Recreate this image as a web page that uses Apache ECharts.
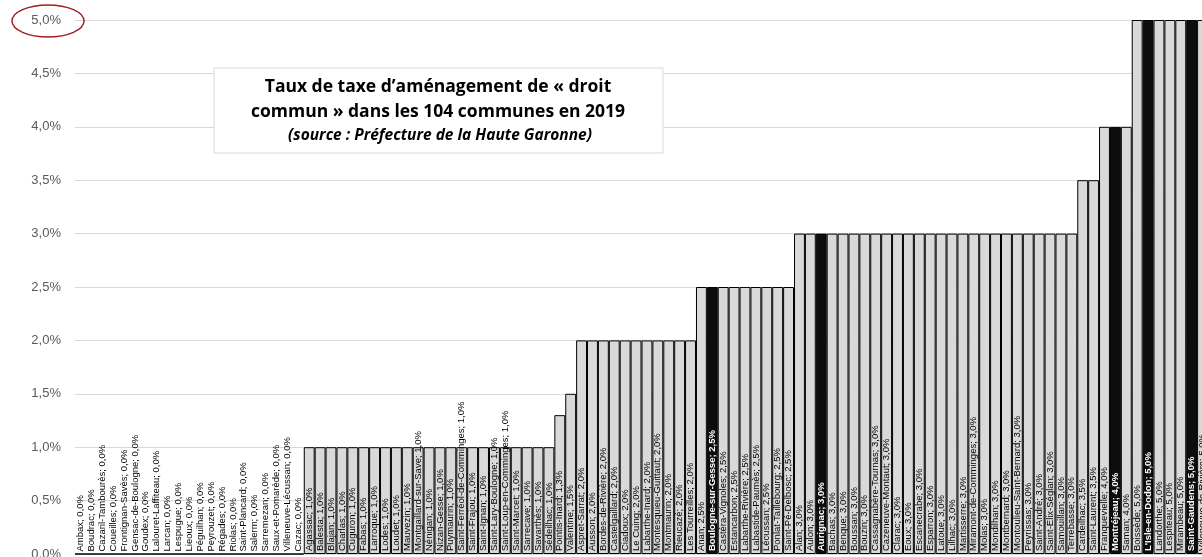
<!DOCTYPE html>
<html>
<head>
<meta charset="utf-8">
<script src="https://cdn.jsdelivr.net/npm/echarts@6/dist/echarts.min.js"></script>
<style>
  html, body { margin: 0; padding: 0; background: #fff; }
  #chart { width: 1202px; height: 557px; }
</style>
</head>
<body>
<div id="chart"></div>
<script>
// communes, dans l'ordre du graphique
const communes = [
  'Ambax', 'Boudrac', 'Cazaril-Tambourès', 'Coueilles', 'Frontignan-Savès', 'Gensac-de-Boulogne',
  'Goudex', 'Lalouret-Laffiteau', 'Larcan', 'Lespugue', 'Lieoux', 'Péguilhan', 'Peyrouzet',
  'Régades', 'Riolas', 'Saint-Plancard', 'Salerm', 'Sarremezan', 'Saux-et-Pomarède',
  'Villeneuve-Lécussan', 'Cazac',
  'Agassac', 'Balesta', 'Blajan', 'Charlas', 'Cuguron', 'Fabas', 'Larroque', 'Lodes', 'Loudet',
  'Mauvezin', 'Montgaillard-sur-Save', 'Nénigan', 'Nizan-Gesse', 'Puymaurin',
  'Saint-Ferréol-de-Comminges', 'Saint-Frajou', 'Saint-Ignan', 'Saint-Lary-Boulogne',
  'Saint-Loup-en-Comminges', 'Saint-Marcet', 'Sarrecave', 'Savarthès', 'Sédeilhac',
  'Pointis-Inard', 'Valentine',
  'Aspret-Sarrat', 'Ausson', 'Bordes-de-Rivière', 'Castelgaillard', 'Ciadoux', 'Le Cuing',
  'Labarthe-Inard', 'Montesquieu-Guittaut', 'Montmaurin', 'Rieucazé', 'Les Tourreilles',
  'Anan', 'Boulogne-sur-Gesse', 'Castéra-Vignoles', 'Estancarbon', 'Labarthe-Rivière',
  'Labastide-Paumès', 'Lécussan', 'Ponlat-Taillebourg', 'Saint-Pé-Delbosc',
  'Alan', 'Aulon', 'Aurignac', 'Bachas', 'Benque', 'Boussan', 'Bouzin', 'Cassagnabère-Tournas',
  'Cazeneuve-Montaut', 'Clarac', 'Eoux', 'Escanecrabe', 'Esparron', 'Latoue', 'Lilhac',
  'Martisserre', 'Miramont-de-Comminges', 'Molas', 'Mondilhan', 'Montbernard',
  'Montoulieu-Saint-Bernard', 'Peyrissas', 'Saint-André', 'Saint-Élix-Séglan', 'Samouillan',
  'Terrebasse',
  'Cardeilhac', 'Saint-Laurent',
  'Franquevielle', 'Montréjeau', 'Saman',
  'Boissède', "L'Isle-en-Dodon", 'Landorthe', 'Lespiteau', 'Mirambeau', 'Saint-Gaudens',
  'Villeneuve-de-Rivière'
]

// taux en %
const taux = [
  0, 0, 0, 0, 0, 0, 0, 0, 0, 0, 0, 0, 0, 0, 0, 0, 0, 0, 0, 0, 0,
  1, 1, 1, 1, 1, 1, 1, 1, 1, 1, 1, 1, 1, 1, 1, 1, 1, 1, 1, 1, 1, 1, 1,
  1.3, 1.5,
  2, 2, 2, 2, 2, 2, 2, 2, 2, 2, 2,
  2.5, 2.5, 2.5, 2.5, 2.5, 2.5, 2.5, 2.5, 2.5,
  3, 3, 3, 3, 3, 3, 3, 3, 3, 3, 3, 3, 3, 3, 3, 3, 3, 3, 3, 3, 3, 3, 3, 3, 3, 3,
  3.5, 3.5,
  4, 4, 4,
  5, 5, 5, 5, 5, 5, 5
]

// communes mises en évidence (barres noires)
const enEvidence = ['Boulogne-sur-Gesse', 'Aurignac', 'Montréjeau', "L'Isle-en-Dodon", 'Saint-Gaudens']

const yTicks = [0, 0.5, 1, 1.5, 2, 2.5, 3, 3.5, 4, 4.5, 5]

const fmt = v => v.toFixed(1).replace('.', ',') + '%'

const chart = echarts.init(document.getElementById('chart'))

chart.setOption({
  animation: false,
  grid: { left: 75, right: -6, top: 20, bottom: 3, outerBoundsMode: 'none' },
  xAxis: {
    type: 'category',
    data: communes,
    axisLabel: { show: false },
    axisTick: { show: false },
    axisLine: { lineStyle: { color: '#d9d9d9' } },
  },
  yAxis: {
    type: 'value',
    min: yTicks[0],
    max: yTicks[yTicks.length - 1],
    interval: 0.5,
    axisLabel: {
      formatter: v => fmt(v),
      color: '#595959',
      fontSize: 13,
      fontFamily: 'Liberation Sans',
      margin: 14,
    },
    splitLine: { lineStyle: { color: '#d9d9d9' } },
  },
  series: [{
    type: 'bar',
    barCategoryGap: '0%',
    data: taux.map((v, i) => {
      const hl = enEvidence.includes(communes[i])
      return {
        value: v,
        itemStyle: { color: hl ? '#0d0d0d' : '#d9d9d9' },
        label: { color: hl ? '#ffffff' : '#000000', fontWeight: hl ? 'bold' : 'normal' },
      }
    }),
    itemStyle: { borderColor: '#000', borderWidth: 1 },
    label: {
      show: true,
      position: 'insideBottom',
      rotate: 90,
      align: 'left',
      verticalAlign: 'middle',
      distance: 3,
      fontSize: 9.5,
      fontFamily: 'Liberation Sans',
      formatter: p => p.name + '; ' + fmt(p.value),
    },
  }],
  graphic: [
    {
      type: 'ellipse',
      shape: { cx: 48, cy: 21, rx: 36, ry: 16 },
      style: { fill: 'none', stroke: '#a31f1f', lineWidth: 1.5 },
      z: 100,
    },
    {
      type: 'rect',
      shape: { x: 214, y: 68, width: 449, height: 85 },
      style: { fill: '#fff', stroke: '#d9d9d9', lineWidth: 1 },
      z: 100,
    },
    {
      type: 'text',
      x: 438, y: 87,
      style: {
        text: 'Taux de taxe d’aménagement de « droit',
        font: 'bold 17.5px "Open Sans"',
        fill: '#000', align: 'center', verticalAlign: 'middle',
      },
      z: 101,
    },
    {
      type: 'text',
      x: 438, y: 112,
      style: {
        text: 'commun » dans les 104 communes en 2019',
        font: 'bold 17.5px "Open Sans"',
        fill: '#000', align: 'center', verticalAlign: 'middle',
      },
      z: 101,
    },
    {
      type: 'text',
      x: 440, y: 136,
      style: {
        text: '(source : Préfecture de la Haute Garonne)',
        font: 'italic bold 15.5px "Open Sans"',
        fill: '#000', align: 'center', verticalAlign: 'middle',
      },
      z: 101,
    },
  ],
})
</script>
</body>
</html>
